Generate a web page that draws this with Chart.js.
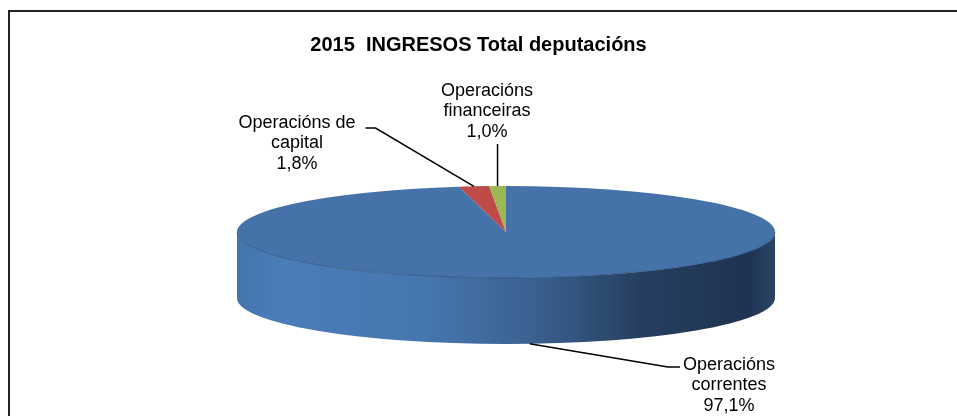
<!DOCTYPE html>
<html>
<head>
<meta charset="utf-8">
<script src="https://cdn.jsdelivr.net/npm/chart.js@4"></script>
<style>
    html, body { margin: 0; padding: 0; background: #fff; }
</style>
</head>
<body>
<canvas id="pieChart" width="957" height="416"></canvas>
<script>
// Datuak
const categories = ["Operacións correntes", "Operacións de capital", "Operacións financeiras"];
const values = [97.1, 1.8, 1.0];
const labelLines = [["Operacións", "correntes"], ["Operacións de", "capital"], ["Operacións", "financeiras"]];
const sliceColors = ["#4672AA", "#BE4B48", "#98B954"];

// Itxura (posizioak)
const PIE = { cx: 506, cy: 232, rx: 269, ry: 46, depth: 66 };
const labelPos = [
    { x: 729, y: 365, side: "left" },
    { x: 297, y: 123, side: "right" },
    { x: 487, y: 91, side: "bottom" }
];

function pct(v) {
    return v.toFixed(1).replace(".", ",") + "%";
}

const pie3d = {
    id: "pie3d",
    beforeDraw(chart) {
        const ctx = chart.ctx;
        ctx.save();
        ctx.fillStyle = "#fff";
        ctx.fillRect(0, 0, chart.width, chart.height);
        ctx.strokeStyle = "#222";
        ctx.lineWidth = 2;
        ctx.beginPath();
        ctx.moveTo(9, chart.height);
        ctx.lineTo(9, 11);
        ctx.lineTo(chart.width, 11);
        ctx.stroke();
        ctx.restore();
    },
    beforeDatasetsDraw(chart) {
        const ctx = chart.ctx;
        const arcs = chart.getDatasetMeta(0).data;
        ctx.save();
        // alboko horma (aurrealdea bakarrik)
        arcs.forEach((arc, i) => {
            const s = arc.startAngle, e = arc.endAngle;
            [-2, 0, 2].forEach(k => {
                const lo = Math.max(s, k * Math.PI);
                const hi = Math.min(e, k * Math.PI + Math.PI);
                if (hi <= lo) return;
                ctx.beginPath();
                ctx.ellipse(PIE.cx, PIE.cy, PIE.rx, PIE.ry, 0, lo, hi, false);
                ctx.ellipse(PIE.cx, PIE.cy + PIE.depth, PIE.rx, PIE.ry, 0, hi, lo, true);
                ctx.closePath();
                if (i === 0) {
                    const g = ctx.createLinearGradient(PIE.cx - PIE.rx, 0, PIE.cx + PIE.rx, 0);
                    g.addColorStop(0, "#4474AC");
                    g.addColorStop(0.08, "#4B7DB9");
                    g.addColorStop(0.35, "#4676AF");
                    g.addColorStop(0.55, "#3A6190");
                    g.addColorStop(0.75, "#263F60");
                    g.addColorStop(0.95, "#1E3350");
                    g.addColorStop(1, "#2A4566");
                    ctx.fillStyle = g;
                } else {
                    ctx.fillStyle = sliceColors[i];
                }
                ctx.fill();
            });
        });
        // goiko aurpegia: zirkulua elipse bihurtu
        const a0 = arcs[0];
        ctx.translate(PIE.cx, PIE.cy);
        ctx.scale(PIE.rx / a0.outerRadius, PIE.ry / a0.outerRadius);
        ctx.translate(-a0.x, -a0.y);
    },
    afterDatasetsDraw(chart) {
        const ctx = chart.ctx;
        ctx.restore();
        const arcs = chart.getDatasetMeta(0).data;

        // goiko ertza aurrean
        ctx.save();
        ctx.strokeStyle = "rgba(40,70,110,0.6)";
        ctx.lineWidth = 1;
        ctx.beginPath();
        ctx.ellipse(PIE.cx, PIE.cy, PIE.rx, PIE.ry, 0, 0, Math.PI, false);
        ctx.stroke();
        ctx.restore();

        // etiketak
        ctx.save();
        ctx.font = '18px "Liberation Sans", Arial, sans-serif';
        ctx.fillStyle = "#000";
        ctx.textAlign = "center";
        ctx.textBaseline = "middle";
        ctx.strokeStyle = "#000";
        ctx.lineWidth = 1.5;
        arcs.forEach((arc, i) => {
            const pos = labelPos[i];
            const lines = labelLines[i].concat([pct(values[i])]);
            lines.forEach((t, j) => ctx.fillText(t, pos.x, pos.y + j * 20.5));

            const mid = (arc.startAngle + arc.endAngle) / 2;
            const px = PIE.cx + PIE.rx * Math.cos(mid);
            const py = PIE.cy + PIE.ry * Math.sin(mid) + (Math.sin(mid) > 0 ? PIE.depth : 0);
            const halfW = ctx.measureText(lines[0]).width / 2;

            ctx.beginPath();
            if (pos.side === "left") {
                const yy = pos.y + 2;
                ctx.moveTo(pos.x - halfW - 3, yy);
                ctx.lineTo(pos.x - halfW - 15, yy);
                ctx.lineTo(px, py);
            } else if (pos.side === "right") {
                const yy = pos.y + 5;
                ctx.moveTo(pos.x + halfW + 10, yy);
                ctx.lineTo(pos.x + halfW + 20, yy);
                ctx.lineTo(px, py);
            } else {
                ctx.moveTo(px, pos.y + (lines.length - 1) * 20.5 + 12);
                ctx.lineTo(px, py);
            }
            ctx.stroke();
        });
        ctx.restore();
    }
};

const ctx1 = document.getElementById("pieChart").getContext("2d");
new Chart(ctx1, {
    type: "pie",
    data: {
        labels: categories,
        datasets: [{
            data: values,
            backgroundColor: sliceColors,
            borderWidth: 0
        }]
    },
    options: {
        responsive: false,
        animation: false,
        events: [],
        rotation: 0,
        plugins: {
            legend: { display: false },
            tooltip: { enabled: false },
            title: {
                display: true,
                text: "2015  INGRESOS Total deputacións",
                color: "#000",
                font: { family: '"Liberation Sans", Arial, sans-serif', size: 20, weight: "bold" },
                padding: { top: 33, bottom: 10 }
            }
        }
    },
    plugins: [pie3d]
});
</script>
</body>
</html>
